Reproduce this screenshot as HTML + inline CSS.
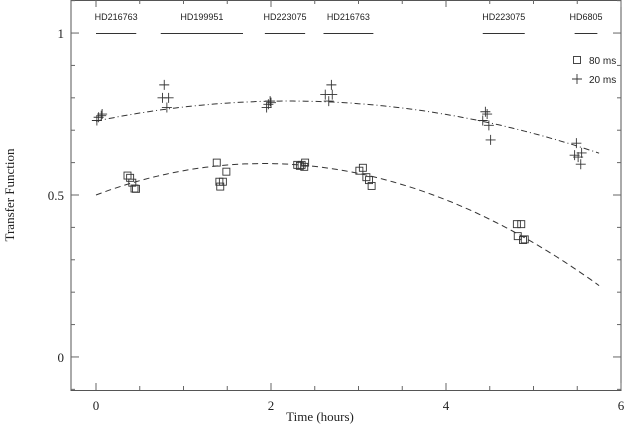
<!DOCTYPE html>
<html><head><meta charset="utf-8"><style>
html,body{margin:0;padding:0;background:#fff;}
svg{display:block;font-family:"Liberation Serif",serif;}
</style></head><body>
<svg id="chart" width="624" height="426"></svg>
<script>
const xTicks=[0,2,4,6];
const yTicks=[0,0.5,1];
const yTickLabels=["0","0.5","1"];
const t80=[0.36,0.39,0.415,0.44,0.457, 1.38,1.49,1.41,1.45,1.42, 2.30,2.35,2.38,2.39,2.33, 3.05,3.01,3.09,3.12,3.15, 4.81,4.86,4.82,4.88,4.90];
const v80=[0.56,0.553,0.538,0.52,0.519, 0.60,0.572,0.541,0.541,0.526, 0.593,0.593,0.587,0.60,0.59, 0.584,0.575,0.555,0.546,0.528, 0.41,0.41,0.373,0.361,0.363];
const t20=[0.01,0.03,0.06,0.07, 0.78,0.76,0.83,0.81, 1.95,1.97,2.0,1.99, 2.62,2.69,2.70,2.66, 4.45,4.47,4.42,4.49,4.51, 5.49,5.55,5.47,5.51,5.54];
const v20=[0.73,0.74,0.745,0.75, 0.84,0.80,0.80,0.77, 0.77,0.78,0.785,0.79, 0.81,0.84,0.81,0.79, 0.757,0.75,0.73,0.715,0.67, 0.66,0.63,0.623,0.617,0.595];
const fit80=[0.5,0.1018,-0.02693,0.000134];
const fit20=[0.728,0.0564,-0.0128,0.0];
const starNames=["HD216763","HD199951","HD223075","HD216763","HD223075","HD6805"];
const starStart=[0,0.74,1.93,2.6,4.42,5.47];
const starEnd=[0.46,1.68,2.39,3.17,4.9,5.73];

const NS="http://www.w3.org/2000/svg";
const svg=document.getElementById('chart');
const X0=71,X1=621,Y0=0,Y1=390;
const xmin=-0.2857,xmax=6,ymin=-0.102,ymax=1.102;
const xs=t=>X0+(t-xmin)/(xmax-xmin)*(X1-X0);
const ys=v=>Y1-(v-ymin)/(ymax-ymin)*(Y1-Y0);
function mk(tag,attrs,parent){const e=document.createElementNS(NS,tag);for(const k in attrs)e.setAttribute(k,attrs[k]);(parent||svg).appendChild(e);return e;}

const frame=mk('rect',{x:X0,y:Y0+0.5,width:X1-X0,height:Y1-Y0,fill:'none',stroke:'#555','stroke-width':1});



for(let t=0;t<=6.001;t+=0.5){
  const major=Math.abs(t-Math.round(t/2)*2)<1e-6;const L=major?7:4;const x=xs(t);
  const a=mk('line',{x1:x,x2:x,y1:Y1,y2:Y1-L,stroke:'#666'});
  
  
  const b=mk('line',{x1:x,x2:x,y1:Y0,y2:Y0+L,stroke:'#666'});
  
  
}
xTicks.forEach(t=>{
  const e=mk('text',{x:xs(t),y:410,'text-anchor':'middle','font-size':13,fill:'#222'});e.textContent=t;
  
  
});
for(let k=-1;k<=11;k++){
  const v=k/10;const major=k%5===0;const L=major?8:4;const y=ys(v);
  const a=mk('line',{x1:X0,x2:X0+L,y1:y,y2:y,stroke:'#666'});
  
  
  const b=mk('line',{x1:X1,x2:X1-L,y1:y,y2:y,stroke:'#666'});
  
  
}
yTicks.forEach((v,i)=>{
  const e=mk('text',{x:64,y:ys(v)+5,'text-anchor':'end','font-size':13,fill:'#222'});e.textContent=yTickLabels[i];
  
  
});
const xl=mk('text',{x:320,y:421,'text-anchor':'middle','font-size':13,fill:'#222'});xl.textContent='Time (hours)';


const yl=mk('text',{x:0,y:0,'text-anchor':'middle','font-size':13,fill:'#222',transform:'translate(14,195) rotate(-90)'});yl.textContent='Transfer Function';



starNames.forEach((n,i)=>{
  const x1=xs(starStart[i]),x2=xs(starEnd[i]);
  const l=mk('line',{x1:x1,x2:x2,y1:33.5,y2:33.5,stroke:'#333'});
  
  
  const t=mk('text',{x:(x1+x2)/2,y:20,'text-anchor':'middle','font-size':9,'font-family':'Liberation Sans, sans-serif',fill:'#222'});t.textContent=n;
  
  
});

function poly(c,t){return c[0]+c[1]*t+c[2]*t*t+c[3]*t*t*t;}
function curve(c,dash,name){
  let d='';for(let t=0;t<=5.75;t+=0.05){d+=(d?'L':'M')+xs(t).toFixed(1)+','+ys(poly(c,t)).toFixed(1);}
  const p=mk('path',{d:d,fill:'none',stroke:'#333','stroke-width':1,'stroke-dasharray':dash});
  
  
}
curve(fit80,'6,4','fit-curve-80ms');
curve(fit20,'6,3,1,3','fit-curve-20ms');

function square(x,y,name){const r=mk('rect',{x:x-3.5,y:y-3.5,width:7,height:7,fill:'none',stroke:'#333','stroke-width':0.9});
  
  }
function plus(x,y,name){const p=mk('path',{d:`M${x-5},${y}H${x+5}M${x},${y-5}V${y+5}`,stroke:'#333','stroke-width':0.9,fill:'none'});
  
  }
t80.forEach((t,i)=>square(xs(t),ys(v80[i]),'point-80ms'));
t20.forEach((t,i)=>plus(xs(t),ys(v20[i]),'point-20ms'));

square(577,60,'legend-marker-80ms');
plus(577,79,'legend-marker-20ms');
const lg1=mk('text',{x:589,y:64,'font-size':10,'font-family':'Liberation Sans, sans-serif',fill:'#222'});lg1.textContent='80 ms';


const lg2=mk('text',{x:589,y:83,'font-size':10,'font-family':'Liberation Sans, sans-serif',fill:'#222'});lg2.textContent='20 ms';


</script>
</body></html>
